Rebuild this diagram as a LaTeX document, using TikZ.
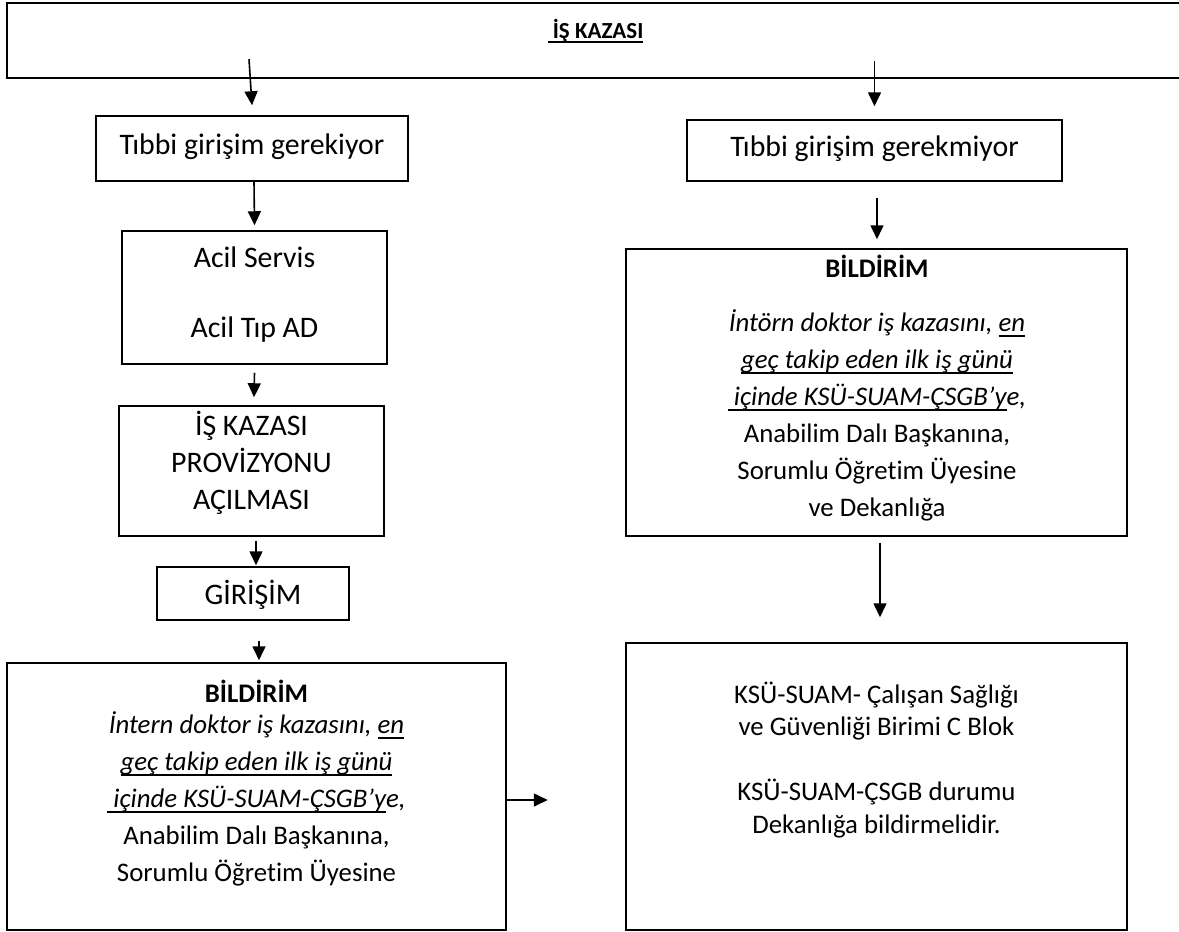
\documentclass[tikz,border=0pt]{standalone}
\usepackage{fontspec}
\setmainfont{Carlito}[Ligatures=NoCommon]
\usetikzlibrary{arrows.meta,calc}
\newcommand\ulx[2][1.4pt]{\leavevmode\setbox0=\hbox{#2}\rlap{\rule[-0.2em]{\wd0}{#1}}\box0}
\tikzset{
  box/.style={draw, line width=1.5pt, inner sep=0pt, rectangle},
  arr/.style={line width=1.6pt, -{Triangle[width=13pt,length=14pt]}},
  big/.style={font=\fontsize{29.8}{36}\selectfont, align=center, inner sep=0pt},
  mid/.style={font=\fontsize{26.8}{37}\selectfont, align=center, inner sep=0pt},
}
\begin{document}
\begin{tikzpicture}[x=1pt,y=-1pt]
\useasboundingbox[fill=white] (0,0) rectangle (1179,932);
% boxes
\node[box, minimum width=1175pt, minimum height=75pt] (top) at (594.5,40.5) {};
\node[font=\fontsize{23}{26}\selectfont\bfseries, inner sep=0pt] (title) at (595.5,31) {\ulx[2pt]{\ İŞ KAZASI}};
\node[box, minimum width=312pt, minimum height=65pt] (tibbi) at (252,148.5) {};
\node[big] (tibbit) at (252,147) {Tıbbi girişim gerekiyor};
\node[box, minimum width=265pt, minimum height=133pt] (acil) at (254.5,297.5) {};
\node[big] (acilt) at (254.5,295) {Acil Servis\\[34pt]Acil Tıp AD};
\node[box, minimum width=265pt, minimum height=130pt] (prov) at (251.5,471) {};
\node[big, font=\fontsize{29.8}{37}\selectfont] (provt) at (251.5,463) {İŞ KAZASI\\PROVİZYONU\\AÇILMASI};
\node[box, minimum width=192pt, minimum height=53pt] (giris) at (253,593.5) {};
\node[big] (girist) at (253,595) {GİRİŞİM};
\node[box, minimum width=499pt, minimum height=267pt] (bildL) at (256.5,796.5) {};
\node[mid] (bildLt) at (256.5,783) {\textbf{BİLDİRİM}\\[-6pt]
  \textit{İntern doktor iş kazasını, \ulx{en}}\\
  \textit{\ulx{geç takip eden ilk iş günü}}\\
  \textit{\ulx{\ içinde KSÜ-SUAM-ÇSGB’y}e,}\\
  Anabilim Dalı Başkanına,\\
  Sorumlu Öğretim Üyesine};
\node[box, minimum width=375pt, minimum height=61pt] (gerek) at (874.5,150.5) {};
\node[big] (gerekt) at (874.5,149) {Tıbbi girişim gerekmiyor};
\node[box, minimum width=501pt, minimum height=287pt] (bildR) at (876.5,392.5) {};
\node[mid] (bildRt) at (877,388) {\textbf{BİLDİRİM}\\[17pt]
  \textit{İntörn doktor iş kazasını, \ulx{en}}\\
  \textit{\ulx{geç takip eden ilk iş günü}}\\
  \textit{\ulx{\ içinde KSÜ-SUAM-ÇSGB’y}e,}\\
  Anabilim Dalı Başkanına,\\
  Sorumlu Öğretim Üyesine\\
  ve Dekanlığa};
\node[box, minimum width=501pt, minimum height=287pt] (ksu) at (876.5,786.5) {};
\node[mid, font=\fontsize{26.8}{32.5}\selectfont] (ksut) at (876.5,760) {KSÜ-SUAM- Çalışan Sağlığı\\
  ve Güvenliği Birimi C Blok\\[32.5pt]
  KSÜ-SUAM-ÇSGB durumu\\
  Dekanlığa bildirmelidir.};
% arrows
\draw[arr] ($(tibbi.north)+(-3,-56)$) -- ($(tibbi.north)+(0,-10)$);
\draw[arr] ($(gerek.north)+(0,-58)$) -- ($(gerek.north)+(0,-13)$);
\draw[arr] ($(tibbi.south)+(2,0)$) -- ($(acil.north)+(0,-5)$);
\draw[arr] ($(acil.south)+(0,8)$) -- ($(prov.north)+(2.5,-8)$);
\draw[arr] ($(prov.south)+(4.5,4)$) -- ($(giris.north)+(3,-1)$);
\draw[arr] ($(giris.south)+(6,20)$) -- ($(bildL.north)+(2.5,-2)$);
\draw[arr] ($(bildL.east)+(0,3.5)$) -- ($(bildL.east)+(41,3.5)$);
\draw[arr] ($(gerek.south)+(2.5,16)$) -- ($(bildR.north)+(0.5,-9)$);
\draw[arr] ($(bildR.south)+(3.5,6)$) -- ($(ksu.north)+(3.5,-25)$);
\end{tikzpicture}
\end{document}
